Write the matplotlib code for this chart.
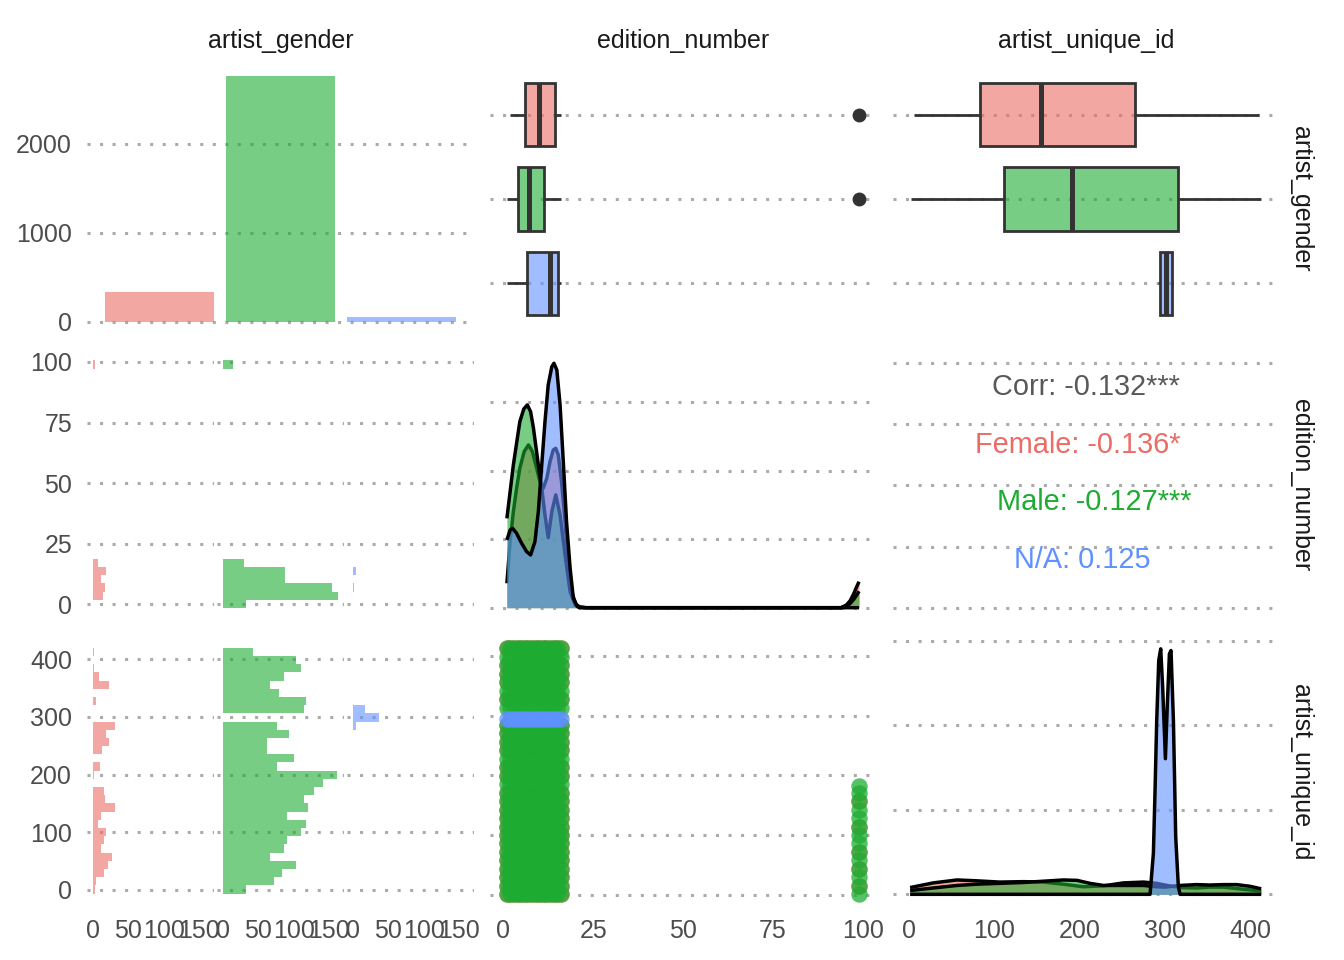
import numpy as np
import matplotlib
matplotlib.use("Agg")
import matplotlib.pyplot as plt

plt.rcParams['font.family'] = ['Liberation Sans', 'DejaVu Sans']

FIG_W, FIG_H = 1344, 960

# ---------------- data ----------------
genders = ["Female", "Male", "N/A"]
gender_colors = ["#EC6C65", "#1EAC32", "#5F91FF"]
gender_counts = [334, 2756, 53]
variables = ["artist_gender", "edition_number", "artist_unique_id"]

# edition_number histogram by gender (30 bins)
ed_bin_start = -1.707
ed_bin_width = 3.414
ed_hist_female = [0, 71, 85, 57, 91, 34, 0, 0, 0, 0, 0, 0, 0, 0, 0, 0, 0, 0, 0, 0, 0, 0, 0, 0, 0, 0, 0, 0, 0, 16]
ed_hist_male = [159, 793, 747, 429, 429, 145, 0, 0, 0, 0, 0, 0, 0, 0, 0, 0, 0, 0, 0, 0, 0, 0, 0, 0, 0, 0, 0, 0, 0, 69]
ed_hist_na = [2, 3, 6, 4, 25, 3, 0, 0, 0, 0, 0, 0, 0, 0, 0, 0, 0, 0, 0, 0, 0, 0, 0, 0, 0, 0, 0, 0, 0, 0]

# artist_unique_id histogram by gender (30 bins)
id_bin_start = -6.1
id_bin_width = 14.2
id_hist_female = [3, 5, 16, 22, 27, 12, 16, 19, 8, 12, 32, 17, 16, 0, 1, 10, 0, 13, 23, 19, 32, 0, 0, 5, 0, 23, 9, 1, 0, 1]
id_hist_male = [33, 73, 83, 103, 67, 86, 90, 110, 117, 90, 120, 115, 129, 141, 162, 77, 100, 62, 62, 94, 76, 0, 114, 118, 79, 67, 87, 110, 103, 42]
id_hist_na = [0, 0, 0, 0, 0, 0, 0, 0, 0, 0, 0, 0, 0, 0, 0, 0, 0, 0, 0, 0, 4, 37, 17, 0, 0, 0, 0, 0, 0, 0]

# boxplot summaries: (whislo, q1, median, q3, whishi, outliers)
ed_box = [(2, 6.0, 10.0, 14.4, 16, [99]),
          (1, 4.0, 7.2, 11.3, 16, [99]),
          (1, 6.5, 13.1, 15.3, 16, [])]
id_box = [(5, 83, 155, 265, 410, []),
          (2, 111, 191, 315, 413, []),
          (292, 294, 301, 308, 309, [])]

# density of edition_number by gender
ed_dens_x_female = [1.0, 1.9, 2.8, 3.7, 4.6, 5.8, 7.0, 8.1, 9.3, 10.4, 11.1, 12.1, 13.0, 13.9, 14.6, 15.3, 16.2, 17.2, 18.1, 19.0, 20.2, 21.3, 23.0, 94.0, 95.5, 96.5, 97.5, 98.3, 99.0]
ed_dens_y_female = [0.0178, 0.0482, 0.0701, 0.0871, 0.1017, 0.1139, 0.1188, 0.1139, 0.1017, 0.0896, 0.0871, 0.0944, 0.1066, 0.1151, 0.1163, 0.1115, 0.0920, 0.0628, 0.0336, 0.0117, 0.0025, 0.0005, 0.0, 0.0, 0.002, 0.005, 0.010, 0.015, 0.019]
ed_dens_x_male = [1.0, 2.8, 4.6, 5.7, 6.7, 7.6, 8.4, 9.75, 10.7, 11.6, 12.5, 13.5, 14.6, 15.8, 17.2, 18.6, 20.0, 21.3, 23.0, 94.0, 95.5, 96.5, 97.5, 98.3, 99.0]
ed_dens_y_male = [0.0652, 0.1042, 0.1358, 0.1450, 0.1480, 0.1430, 0.1309, 0.1042, 0.0871, 0.0677, 0.0511, 0.0701, 0.0823, 0.0677, 0.0385, 0.0117, 0.0020, 0.0004, 0.0, 0.0, 0.0012, 0.003, 0.006, 0.009, 0.012]
ed_dens_x_na = [1.0, 1.9, 2.6, 3.7, 5.1, 6.5, 7.6, 8.8, 9.75, 10.7, 11.6, 12.5, 13.5, 14.1, 14.9, 15.8, 16.7, 17.6, 18.6, 19.5, 20.6, 21.3, 99.0]
ed_dens_y_na = [0.0494, 0.0567, 0.0579, 0.0543, 0.0470, 0.0409, 0.0385, 0.0482, 0.0701, 0.1042, 0.1358, 0.1626, 0.1759, 0.1784, 0.1735, 0.1480, 0.1066, 0.0628, 0.0287, 0.0068, 0.0008, 0.0, 0.0]

# density of artist_unique_id by gender
id_dens_x_female = [1, 28, 56, 79, 106, 134, 157, 181, 204, 228, 251, 275, 290, 305, 318, 337, 353, 369, 392, 413]
id_dens_y_female = [0.0016, 0.0027, 0.0034, 0.0032, 0.0029, 0.0030, 0.0029, 0.0024, 0.0018, 0.0020, 0.0027, 0.0029, 0.0026, 0.0020, 0.0016, 0.0015, 0.0017, 0.0017, 0.0012, 0.0008]
id_dens_x_male = [1, 28, 56, 79, 106, 134, 157, 181, 197, 212, 228, 251, 275, 290, 300, 318, 337, 353, 369, 384, 400, 413]
id_dens_y_male = [0.0009, 0.0015, 0.0021, 0.0024, 0.0026, 0.0028, 0.0031, 0.0034, 0.0033, 0.0026, 0.0021, 0.0021, 0.0021, 0.0018, 0.0017, 0.0021, 0.0023, 0.0022, 0.0023, 0.0023, 0.0019, 0.0013]
id_dens_x_na = [1, 282.6, 286.5, 288.5, 290.4, 292.8, 295.1, 297.4, 300.6, 302.9, 305.3, 307.2, 310.0, 312.7, 315.8, 317.8, 413]
id_dens_y_na = [0.0, 0.0, 0.0097, 0.025, 0.0412, 0.0554, 0.0581, 0.0490, 0.0321, 0.0451, 0.0569, 0.0577, 0.0412, 0.0136, 0.0018, 0.0, 0.0]

# scatter edition_number vs artist_unique_id
sc_editions = [1, 2, 3, 4, 5, 6, 7, 8, 9, 10, 11, 12, 13, 14, 15, 16]
sc_ids_female = [1, 15.2, 29.4, 43.6, 57.8, 72, 86.2, 100.4, 114.6, 128.8, 143, 157.2, 171.4, 199.8, 214, 242.4, 256.6, 270.8, 285, 327.6, 356, 370.2, 384.4, 412.8]
sc_ids_male = [1, 15.2, 29.4, 43.6, 57.8, 72, 86.2, 100.4, 114.6, 128.8, 143, 157.2, 171.4, 185.6, 199.8, 214, 228.2, 242.4, 256.6, 270.8, 285, 313.4, 327.6, 341.8, 356, 370.2, 384.4, 398.6, 412.8]
sc_ids_na = [294]
sc_ids_male_99 = [1, 15.2, 29.4, 43.6, 57.8, 72, 86.2, 100.4, 114.6, 128.8, 143, 157.2, 171.4, 183]
sc_ids_female_99 = [15.2, 43.6, 72, 114.6, 157.2]
outlier_edition = 99

# correlations
cor_labels = ["Corr: -0.132***", "Female: -0.136*", "Male: -0.127***", "N/A: 0.125"]
cor_colors = ["#595959", "#EC6C65", "#1EAC32", "#5F91FF"]

# ---------------- layout ----------------
ALPHA = 0.6
fig = plt.figure(figsize=(FIG_W / 100, FIG_H / 100), dpi=100)
fig.patch.set_facecolor("white")

col_x = [87, 490, 893]
col_w = 387
row_y = [64, 350.5, 637]
row_h = 270
facet_x = [87, 217, 347]
facet_w = 127

GRID = dict(color="#ABABAB", linestyle=(0, (1, 3.1)), linewidth=2.2)
TXT = "#4D4D4D"


def px_axes(x0, y0, w, h):
    return fig.add_axes([x0 / FIG_W, 1 - (y0 + h) / FIG_H, w / FIG_W, h / FIG_H])


def style(ax, yticks, xticks=None, ylabels=False, xlabels=False):
    for s in ax.spines.values():
        s.set_visible(False)
    ax.set_axisbelow(True)
    ax.set_yticks(yticks)
    ax.set_xticks(xticks if xticks is not None else [])
    ax.tick_params(axis="y", length=0, labelsize=18, labelcolor=TXT, pad=10.8,
                   labelleft=ylabels)
    ax.tick_params(axis="x", length=0, labelsize=18, labelcolor=TXT, pad=8.5,
                   labelbottom=xlabels)
    ax.yaxis.grid(True, **GRID)
    ax.xaxis.grid(False)


# ---- row 1 ----
ax = px_axes(col_x[0], row_y[0], col_w, row_h)
ax.bar([1, 2, 3], gender_counts, width=0.9, color=gender_colors, alpha=ALPHA, lw=0)
ax.set_xlim(0.4, 3.6)
ax.set_ylim(-137.8, 2893.8)
style(ax, [0, 1000, 2000], ylabels=True)
ax.set_yticklabels(["0", "1000", "2000"])


def draw_box(ax, boxes):
    stats = []
    for (lo, q1, med, q3, hi, fl) in boxes:
        stats.append(dict(whislo=lo, q1=q1, med=med, q3=q3, whishi=hi, fliers=fl))
    res = ax.bxp(stats, positions=[1, 2, 3], widths=0.75, orientation="horizontal",
                 patch_artist=True, showcaps=False, manage_ticks=False,
                 boxprops=dict(edgecolor="#333333", linewidth=2.0),
                 whiskerprops=dict(color="#333333", linewidth=2.0, solid_capstyle="butt"),
                 medianprops=dict(color="#333333", linewidth=3.6, solid_capstyle="butt"),
                 flierprops=dict(marker="o", markerfacecolor="#333333", markeredgecolor="#333333",
                                 markersize=9, linestyle="none"))
    for patch, c in zip(res["boxes"], gender_colors):
        patch.set_facecolor(matplotlib.colors.to_rgba(c, ALPHA))
    ax.set_ylim(3.6, 0.4)


ax = px_axes(col_x[1], row_y[0], col_w, row_h)
draw_box(ax, ed_box)
ax.set_xlim(-3.7, 104)
style(ax, [1, 2, 3])

ax = px_axes(col_x[2], row_y[0], col_w, row_h)
draw_box(ax, id_box)
ax.set_xlim(-19.1, 435.1)
style(ax, [1, 2, 3])

# ---- row 2 ----
ed_hists = [ed_hist_female, ed_hist_male, ed_hist_na]
for k in range(3):
    ax = px_axes(facet_x[k], row_y[1], facet_w, row_h)
    centers = [ed_bin_start + ed_bin_width * (i + 0.5) for i in range(len(ed_hists[k]))]
    ax.barh(centers, ed_hists[k], height=ed_bin_width, left=0, color=gender_colors[k],
            alpha=ALPHA, lw=0)
    ax.set_xlim(-39.65, 832.65)
    ax.set_ylim(-6.8, 104.75)
    style(ax, [0, 25, 50, 75, 100], ylabels=(k == 0))
    if k == 0:
        ax.set_yticklabels(["0", "25", "50", "75", "100"])


def draw_density(ax, xs_list, ys_list):
    for i, (xs, ys) in enumerate(zip(xs_list, ys_list)):
        ax.fill_between(xs, 0, ys, color=gender_colors[i], alpha=ALPHA, lw=0, zorder=2 + 2 * i)
        ax.plot(xs, ys, color="black", lw=2.5, zorder=3 + 2 * i, solid_joinstyle="round",
                solid_capstyle="butt")


ax = px_axes(col_x[1], row_y[1], col_w, row_h)
draw_density(ax, [ed_dens_x_female, ed_dens_x_male, ed_dens_x_na],
             [ed_dens_y_female, ed_dens_y_male, ed_dens_y_na])
ax.set_xlim(-3.7, 104)
ax.set_ylim(-0.00934, 0.1877)
style(ax, [0, 0.05, 0.10, 0.15])

ax = px_axes(col_x[2], row_y[1], col_w, row_h)
ax.set_xlim(0, 1)
ax.set_ylim(-5.2, 105)
style(ax, [0, 25, 50, 75, 100])
cor_pos = [(0.499, 0.866), (0.478, 0.650), (0.519, 0.440), (0.488, 0.224)]
for lab, col, (fx, fy) in zip(cor_labels, cor_colors, cor_pos):
    ax.text(fx, fy, lab, color=col, fontsize=20.8, ha="center", va="center",
            transform=ax.transAxes)

# ---- row 3 ----
id_hists = [id_hist_female, id_hist_male, id_hist_na]
for k in range(3):
    ax = px_axes(facet_x[k], row_y[2], facet_w, row_h)
    centers = [id_bin_start + id_bin_width * (i + 0.5) for i in range(len(id_hists[k]))]
    ax.barh(centers, id_hists[k], height=id_bin_width, left=0, color=gender_colors[k],
            alpha=ALPHA, lw=0)
    ax.set_xlim(-8.2, 171.2)
    ax.set_ylim(-29.5, 438.7)
    style(ax, [0, 100, 200, 300, 400], xticks=[0, 50, 100, 150], ylabels=(k == 0), xlabels=True)
    ax.set_xticklabels(["0", "50", "100", "150"])
    if k == 0:
        ax.set_yticklabels(["0", "100", "200", "300", "400"])

ax = px_axes(col_x[1], row_y[2], col_w, row_h)
SC = dict(s=140, alpha=0.75, linewidths=0)
ex, iy = np.meshgrid(sc_editions, sc_ids_female)
ax.scatter(ex.ravel(), iy.ravel(), color=gender_colors[0], **SC)
ax.scatter([outlier_edition] * len(sc_ids_female_99), sc_ids_female_99, color=gender_colors[0], **SC)
ex, iy = np.meshgrid(sc_editions, sc_ids_male)
ax.scatter(ex.ravel(), iy.ravel(), color=gender_colors[1], **SC)
ax.scatter([outlier_edition] * len(sc_ids_male_99), sc_ids_male_99, color=gender_colors[1], **SC)
ex, iy = np.meshgrid(sc_editions, sc_ids_na)
ax.scatter(ex.ravel(), iy.ravel(), color=gender_colors[2], **SC)
ax.set_xlim(-3.7, 104)
ax.set_ylim(-20.1, 431.8)
style(ax, [0, 100, 200, 300, 400], xticks=[0, 25, 50, 75, 100], xlabels=True)
ax.set_xticklabels(["0", "25", "50", "75", "100"])

ax = px_axes(col_x[2], row_y[2], col_w, row_h)
draw_density(ax, [id_dens_x_female, id_dens_x_male, id_dens_x_na],
             [id_dens_y_female, id_dens_y_male, id_dens_y_na])
ax.set_xlim(-19.1, 435.1)
ax.set_ylim(-0.003, 0.0609)
style(ax, [0, 0.02, 0.04, 0.06], xticks=[0, 100, 200, 300, 400], xlabels=True)
ax.set_xticklabels(["0", "100", "200", "300", "400"])

# ---- strips ----
for j, name in enumerate(variables):
    fig.text((col_x[j] + col_w / 2) / FIG_W, 1 - 41 / FIG_H, name, ha="center", va="center",
             fontsize=18, color="#1A1A1A")
    fig.text(1301 / FIG_W, 1 - (row_y[j] + row_h / 2) / FIG_H, name, ha="center", va="center",
             fontsize=18, color="#1A1A1A", rotation=-90)

fig.savefig("out.png", dpi=100, facecolor="white")
